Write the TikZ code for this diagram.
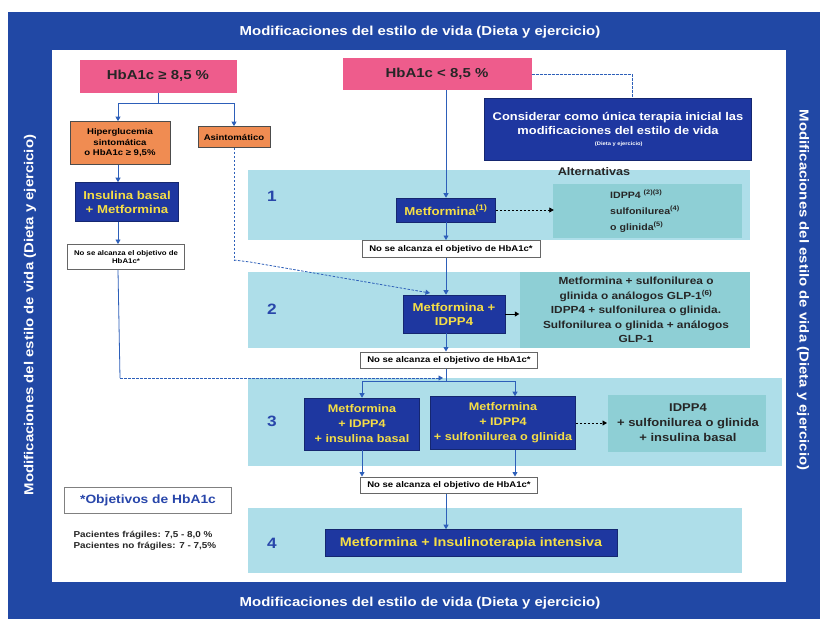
\documentclass[tikz,border=0pt]{standalone}
\usepackage{fontspec}
\setmainfont{Liberation Sans}[FakeStretch=1.15]
\usetikzlibrary{arrows.meta,calc}
\definecolor{frameblue}{RGB}{33,72,165}
\definecolor{boxblue}{RGB}{30,55,160}
\definecolor{txtyellow}{RGB}{245,222,70}
\definecolor{pinkbox}{RGB}{238,92,140}
\definecolor{orangebox}{RGB}{240,140,82}
\definecolor{bandblue}{RGB}{174,222,233}
\definecolor{altteal}{RGB}{142,207,213}
\definecolor{lineblue}{RGB}{45,95,185}
\definecolor{numblue}{RGB}{40,70,170}
\newcommand{\fsz}[2]{\fontsize{#1}{#2}\selectfont\bfseries}
\begin{document}
\begin{tikzpicture}[x=1pt,y=-1pt,
  pinkb/.style={fill=pinkbox, text=black!85, font=\fsz{13}{15}, inner sep=0pt, align=center},
  orangeb/.style={fill=orangebox, draw=black!70, line width=0.8pt, text=black, font=\fsz{8.3}{10.5}, inner sep=1pt, align=center},
  blueb/.style={fill=boxblue, draw=boxblue!70!black, line width=0.6pt, text=txtyellow, font=\fsz{11.5}{14}, inner sep=1pt, align=center},
  chkb/.style={fill=white, draw=black!60, line width=1pt, text=black, font=\fsz{8.3}{9}, inner sep=0pt, align=center},
  altt/.style={text=black!85, font=\fsz{10.3}{14.5}, align=center, inner sep=0pt},
  numt/.style={text=numblue, font=\fsz{15}{17}},
  titlet/.style={text=white, font=\fsz{13}{15}},
  flow/.style={draw=lineblue, line width=0.8pt, -{Triangle[length=4.5pt,width=5pt]}, color=lineblue},
  plain/.style={draw=lineblue, line width=0.8pt},
  dflow/.style={flow, dashed, dash pattern=on 2.5pt off 1.5pt}
]
\useasboundingbox (0,0) rectangle (820,619);
\fill[white] (0,0) rectangle (820,619);
% frame
\fill[frameblue] (8,12) rectangle (820,619);
\fill[white] (52,50) rectangle (786,582);
\node[titlet] (ttop) at (420,32) {Modificaciones del estilo de vida (Dieta y ejercicio)};
\node[titlet] (tbot) at (420,603) {Modificaciones del estilo de vida (Dieta y ejercicio)};
\node[titlet, rotate=90] (tleft) at (30,315) {Modificaciones del estilo de vida (Dieta y ejercicio)};
\node[titlet, rotate=-90] (tright) at (803,290) {Modificaciones del estilo de vida (Dieta y ejercicio)};
% bands
\fill[bandblue] (248,170) rectangle (750,240);
\fill[altteal] (553,184) rectangle (742,238);
\fill[bandblue] (248,272) rectangle (750,348);
\fill[altteal] (520,272) rectangle (750,348);
\fill[bandblue] (248,378) rectangle (782,466);
\fill[altteal] (608,395) rectangle (766,452);
\fill[bandblue] (248,508) rectangle (742,573);
\node[numt] (n1) at (272,196) {1};
\node[numt] (n2) at (272,309) {2};
\node[numt] (n3) at (272,421) {3};
\node[numt] (n4) at (272,543) {4};
% top boxes
\node[pinkb, minimum width=157pt, minimum height=33pt] (hbhi) at (158,76) {HbA1c ≥ 8,5 \%};
\node[pinkb, minimum width=189pt, minimum height=32pt] (hblo) at (437,74) {HbA1c < 8,5 \%};
\node[orangeb, minimum width=100pt, minimum height=43pt] (hiper) at (120,143) {Hiperglucemia\\sintomática\\o HbA1c ≥ 9,5\%};
\node[orangeb, minimum width=72pt, minimum height=21pt] (asin) at (234,137) {Asintomático};
\node[blueb, minimum width=103pt, minimum height=39pt] (insb) at (127,202) {Insulina basal\\+ Metformina};
\node[chkb, minimum width=117pt, minimum height=25pt, font=\fsz{6.8}{8}] (chk0) at (126,257) {No se alcanza el objetivo de\\HbA1c*};
\node[blueb, text=white, minimum width=267pt, minimum height=62pt, font=\fsz{11.2}{14}] (cons) at (618,129) {Considerar como única terapia inicial las\\modificaciones del estilo de vida\\[-3pt]{\fsz{5}{6} (Dieta y ejercicio)}};
% step 1
\node[blueb, minimum width=99pt, minimum height=24pt] (met1) at (446,210) {Metformina\textsuperscript{(1)}};
\node[font=\fsz{11}{13}, text=black!85] (altl) at (594,172) {Alternativas};
\node[altt, anchor=west, align=left, font=\fsz{9.2}{16}] (alt1) at (610,211) {IDPP4 \textsuperscript{(2)(3)}\\sulfonilurea\textsuperscript{(4)}\\o glinida\textsuperscript{(5)}};
\node[chkb, minimum width=178pt, minimum height=17pt] (chk1) at (451,249) {No se alcanza el objetivo de HbA1c*};
% step 2
\node[blueb, minimum width=102pt, minimum height=38pt] (met2) at (454,314) {Metformina +\\IDPP4};
\node[altt] (alt2) at (636,310) {Metformina + sulfonilurea o\\glinida o análogos GLP-1\textsuperscript{(6)}\\IDPP4 + sulfonilurea o glinida.\\Sulfonilurea o glinida + análogos\\GLP-1};
\node[chkb, minimum width=177pt, minimum height=16pt] (chk2) at (449,360) {No se alcanza el objetivo de HbA1c*};
% step 3
\node[blueb, minimum width=115pt, minimum height=52pt, font=\fsz{11}{15}] (met3a) at (362,424) {Metformina\\+ IDPP4\\+ insulina basal};
\node[blueb, minimum width=145pt, minimum height=53pt, font=\fsz{11}{15}] (met3b) at (503,423) {Metformina\\+ IDPP4\\+ sulfonilurea o glinida};
\node[altt, font=\fsz{11.3}{15}] (alt3) at (688,423) {IDPP4\\+ sulfonilurea o glinida\\+ insulina basal};
\node[chkb, minimum width=177pt, minimum height=16pt] (chk3) at (449,485) {No se alcanza el objetivo de HbA1c*};
% step 4
\node[blueb, minimum width=292pt, minimum height=27pt, font=\fsz{12.5}{14}] (met4) at (471,543) {Metformina + Insulinoterapia intensiva};
% legend
\node[chkb, draw=black!50, minimum width=167pt, minimum height=26pt, text=numblue, font=\fsz{12}{14}] (obj) at (148,500) {*Objetivos de HbA1c};
\node[anchor=west, align=left, font=\fsz{8.6}{10.5}, text=black!85] (pac) at (70,541) {Pacientes frágiles: 7,5 - 8,0 \%\\Pacientes no frágiles: 7 - 7,5\%};
% connectors top-left
\coordinate (sp0) at (158,103);
\coordinate (lx) at (118,0);
\draw[plain] (hbhi.south) -- (sp0);
\draw[flow] (sp0) -| (lx |- hiper.north);
\draw[flow] (sp0) -| (asin.north);
\draw[flow] (lx |- hiper.south) -- (lx |- insb.north);
\draw[flow] (lx |- insb.south) -- (lx |- chk0.north);
\coordinate (lc) at (120,378);
\draw[plain] (lx |- chk0.south) -- (lc);
\draw[dflow] (lc) -- (443,378);
\coordinate (ac) at (234,260);
\draw[plain, dashed, dash pattern=on 2.5pt off 1.5pt] (asin.south) -- (ac);
\draw[dflow] (ac) -- (250,262) -- (430,293);
% main flow
\draw[flow] (hblo.south -| met1.north) -- (met1.north);
\coordinate (cr) at (632,74);
\draw[plain, line width=0.6pt, dashed, dash pattern=on 3pt off 1pt] (hblo.east) -- (cr) -- (cons.north -| cr);
\draw[dflow, draw=black, color=black] (met1.east) -- ($(met1.east)+(58,0)$);
\draw[flow] (met1.south) -- (met1.south |- chk1.north);
\draw[flow] (chk1.south -| met1.south) -- (met2.north -| met1.south);
\draw[flow, draw=black, color=black] (met2.east) -- ($(met2.east)+(14,0)$);
\draw[flow] (met2.south -| met1.south) -- (chk2.north -| met1.south);
\coordinate (sp3) at (446,381);
\draw[plain] (chk2.south -| met1.south) -- (sp3);
\draw[flow] (sp3) -| (met3a.north);
\draw[flow] (sp3) -| ($(met3b.north)+(12,0)$);
\draw[dflow, draw=black, color=black] (met3b.east) -- (alt3.west -| 607,0);
\draw[flow] (met3a.south) -- (met3a.south |- chk3.north);
\draw[flow] ($(met3b.south)+(12,0)$) -- ($(met3b.south |- chk3.north)+(12,0)$);
\draw[flow] (chk3.south -| met1.south) -- (met4.north -| met1.south);
\end{tikzpicture}
\end{document}
